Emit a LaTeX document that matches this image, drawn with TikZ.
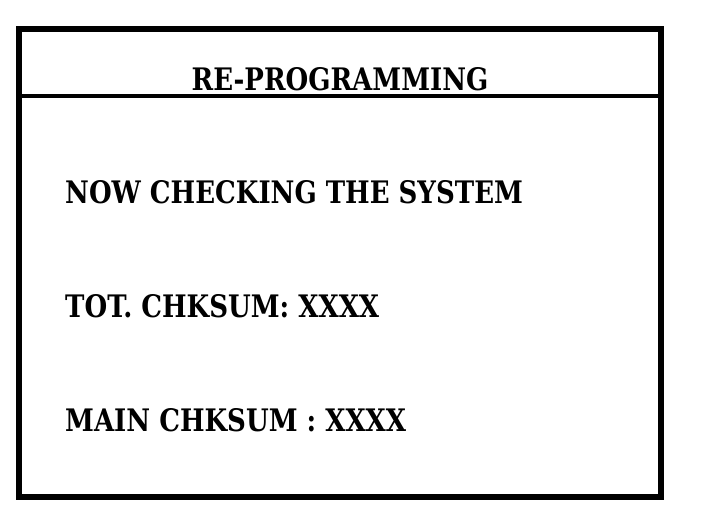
\documentclass[tikz,border=0pt]{standalone}
\usepackage{fontspec}
\newfontfamily\screenfont{DejaVu Serif Bold}[FakeStretch=0.84]

\begin{document}
\begin{tikzpicture}[
                x = 1pt, y = 1pt,
                frame/.style={ draw = black, line width = 6.5pt },
                rule/.style={ draw = black, line width = 4pt },
                line/.style={ anchor = base west, inner sep = 0pt, font = \screenfont\fontsize{31}{31}\selectfont },
                title/.style={ line, anchor = base }
            ]
            \useasboundingbox (0, 0) rectangle (704, 524);

            \draw [frame] (19, 27) rectangle (661, 495);
            \coordinate (L) at (19, 428);
            \coordinate (R) at (661, 428);
            \draw [rule] (L) -- (R);

            \node (head) [title] at (340, 433) {RE-PROGRAMMING};
            \node (check) [line] at (65, 320) {NOW CHECKING THE SYSTEM};
            \node (tot)   [line] at (65, 206) {TOT. CHKSUM: XXXX};
            \node (main)  [line] at (65, 92)  {MAIN CHKSUM : XXXX};
        \end{tikzpicture}
\end{document}
